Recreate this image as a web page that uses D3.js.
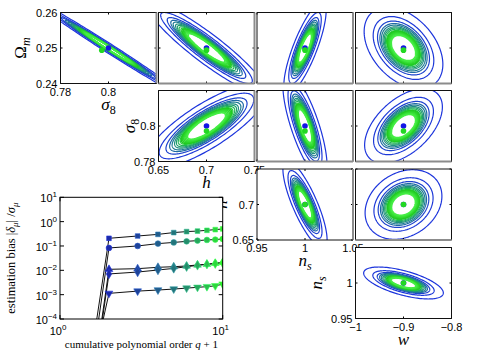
<!DOCTYPE html>
<html>
<head>
<meta charset="utf-8">
<style>
  html, body { margin:0; padding:0; background:#fff; }
  svg { display:block; font-family:"Liberation Sans", Arial, sans-serif; }
  .serif { font-family:"Liberation Serif", "DejaVu Serif", serif; }
</style>
<script src="https://d3js.org/d3.v7.min.js"></script>
</head>
<body>
<svg id="chart"></svg>
<script>
var width = 477, height = 361;

// corner plot parameters: Omega_m, sigma_8, h, n_s, w
var paramSymbol = ["\u03A9", "\u03C3", "h", "n", "w"];
var paramSub = ["m", "8", "", "s", ""];
var paramFiducial = [0.25, 0.8, 0.7, 1.0, -0.9];
var paramEstimate = [0.2494, 0.7972, 0.7, 1.0, -0.9];
var paramDomain = [[0.24, 0.26], [0.78, 0.82], [0.65, 0.75], [0.95, 1.05], [-1, -0.8]];
var paramTicks = [[0.24, 0.25, 0.26], [0.78, 0.8, 0.82], [0.65, 0.7, 0.75], [0.95, 1, 1.05], [-1, -0.9, -0.8]];
var xTickLabels = [[], [0.78, 0.8], [0.65, 0.7, 0.75], [0.95, 1, 1.05], [-1, -0.9, -0.8]];
var yTickLabels = [[0.24, 0.25, 0.26], [0.78, 0.8], [0.65, 0.7], [0.95, 1], []];

// one panel per parameter pair: x param, y param, outer contour widths and correlation
var panelX = [1, 2, 3, 4, 2, 3, 4, 3, 4, 4];
var panelY = [0, 0, 0, 0, 1, 1, 1, 2, 2, 3];
var sigmaX = [0.030, 0.062, 0.022, 0.082, 0.064, 0.023, 0.081, 0.023, 0.080, 0.083];
var sigmaY = [0.013, 0.013, 0.013, 0.0115, 0.024, 0.030, 0.021, 0.062, 0.049, 0.0225];
var rho    = [-0.993, -0.92, 0.8, -0.4, 0.8, -0.75, 0.51, -0.8, 0.24, -0.62];

// nested contours (relative size) and their blue -> green mix
var contourScale = [1, 0.77, 0.66, 0.6, 0.56, 0.52, 0.49, 0.46, 0.43];
var contourMix   = [0, 0.02, 0.08, 0.3, 0.4, 0.5, 0.6, 0.72, 0.85];
var bandScale = [0.41, 0.39, 0.37, 0.35, 0.33, 0.31];

// estimation bias vs cumulative polynomial order
var order = [1, 2, 3, 4, 5, 6, 7, 8, 9, 10];
var biasSquare  = [1e-14, 0.207, 0.257, 0.30, 0.355, 0.39, 0.41, 0.44, 0.47, 0.50];
var biasCircle  = [1e-15, 0.083, 0.100, 0.125, 0.14, 0.155, 0.166, 0.177, 0.183, 0.194];
var biasTriUp   = [1e-16, 0.011, 0.0117, 0.0133, 0.0141, 0.0151, 0.0166, 0.0177, 0.0195, 0.0214];
var biasDiamond = [1e-16, 0.0071, 0.0085, 0.0103, 0.012, 0.0141, 0.016, 0.0177, 0.0188, 0.0199];
var biasTriDown = [1e-12, 0.00113, 0.0014, 0.00155, 0.0017, 0.00186, 0.0020, 0.00213, 0.0023, 0.0027];
var biasTicksX = [1, 10];
var biasTicksY = [1e-4, 1e-3, 1e-2, 1e-1, 1, 10];

var svg = d3.select("#chart").attr("width", width).attr("height", height);
svg.append("rect").attr("width", width).attr("height", height).attr("fill", "#fff");

var colLeft = [60.5, 158.5, 257, 355.5];
var rowTop = [12.5, 90.5, 169, 247.5];
var panelW = 96, panelH = 71;

var contourColor = d3.interpolateRgb("#1d35dc", "#22e622");
var bandColor = d3.interpolateRgb("#20c820", "#44ee44");

function fmt(v) { return String(v).replace("-", "\u2212"); }

function hasPanel(xp, yp) {
  for (var k = 0; k < panelX.length; k++) if (panelX[k] == xp && panelY[k] == yp) return true;
  return false;
}

function ellipse(cx, cy, sx, sy, r, s) {
  var pts = [];
  for (var k = 0; k < 160; k++) {
    var t = 2 * Math.PI * k / 160;
    pts.push([cx + s * sx * Math.cos(t),
              cy + s * sy * (r * Math.cos(t) + Math.sqrt(1 - r * r) * Math.sin(t))]);
  }
  return pts;
}

function paramLabel(sel, p) {
  sel.append("tspan").attr("font-style", p == 0 ? "normal" : "italic").text(paramSymbol[p]);
  if (paramSub[p]) sel.append("tspan").attr("font-style", p == 1 ? "normal" : "italic")
      .attr("font-size", 12).attr("dy", 4).text(paramSub[p]);
}

var yLabelOffset = [35, 24, 30, 34];

panelX.forEach(function(xp, i) {
  var yp = panelY[i];
  var left = colLeft[xp - 1], top = rowTop[yp];
  var x = d3.scaleLinear().domain(paramDomain[xp]).range([left, left + panelW]);
  var y = d3.scaleLinear().domain(paramDomain[yp]).range([top + panelH, top]);
  var g = svg.append("g");

  g.append("rect").attr("x", left).attr("y", top).attr("width", panelW).attr("height", panelH)
    .attr("fill", "#fff");
  g.append("clipPath").attr("id", "clip" + i).append("rect")
    .attr("x", left).attr("y", top).attr("width", panelW).attr("height", panelH);
  var inner = g.append("g").attr("clip-path", "url(#clip" + i + ")");

  var line = d3.line().x(function(d) { return x(d[0]); }).y(function(d) { return y(d[1]); })
    .curve(d3.curveLinearClosed);

  contourScale.forEach(function(s, k) {
    inner.append("path")
      .attr("d", line(ellipse(paramFiducial[xp], paramFiducial[yp], sigmaX[i], sigmaY[i], rho[i], s)))
      .attr("fill", "none").attr("stroke", contourColor(contourMix[k])).attr("stroke-width", 1.2);
  });
  bandScale.forEach(function(s, k) {
    inner.append("path")
      .attr("d", line(ellipse(paramFiducial[xp], paramFiducial[yp], sigmaX[i], sigmaY[i], rho[i], s)))
      .attr("fill", "none").attr("stroke", bandColor(k / (bandScale.length - 1))).attr("stroke-width", 1.6);
  });

  inner.append("circle").attr("cx", x(paramFiducial[xp])).attr("cy", y(paramFiducial[yp]))
    .attr("r", 2.8).attr("fill", "#1414e6");
  inner.append("circle").attr("cx", x(paramEstimate[xp])).attr("cy", y(paramEstimate[yp]))
    .attr("r", 2.8).attr("fill", "#22d822");

  // inward ticks on all sides
  paramTicks[xp].forEach(function(t) {
    g.append("line").attr("x1", x(t)).attr("x2", x(t)).attr("y1", top + panelH).attr("y2", top + panelH - 2)
      .attr("stroke", "#000");
    g.append("line").attr("x1", x(t)).attr("x2", x(t)).attr("y1", top).attr("y2", top + 2)
      .attr("stroke", "#000");
  });
  paramTicks[yp].forEach(function(t) {
    g.append("line").attr("x1", left).attr("x2", left + 2).attr("y1", y(t)).attr("y2", y(t))
      .attr("stroke", "#000");
    g.append("line").attr("x1", left + panelW).attr("x2", left + panelW - 2).attr("y1", y(t)).attr("y2", y(t))
      .attr("stroke", "#000");
  });

  // frame: edges shared with a neighbour look grey
  var rightGrey = hasPanel(xp + 1, yp), bottomGrey = hasPanel(xp, yp + 1);
  g.append("line").attr("x1", left).attr("x2", left + panelW).attr("y1", top).attr("y2", top)
    .attr("stroke", "#111");
  g.append("line").attr("x1", left).attr("x2", left).attr("y1", top).attr("y2", top + panelH)
    .attr("stroke", "#111");
  g.append("line").attr("x1", left + panelW).attr("x2", left + panelW).attr("y1", top).attr("y2", top + panelH)
    .attr("stroke", rightGrey ? "#8c8c8c" : "#111").attr("stroke-width", rightGrey ? 2 : 1);
  g.append("line").attr("x1", left).attr("x2", left + panelW).attr("y1", top + panelH).attr("y2", top + panelH)
    .attr("stroke", bottomGrey ? "#8c8c8c" : "#111").attr("stroke-width", bottomGrey ? 2 : 1);

  // labels only on the diagonal panels
  if (xp == yp + 1) {
    xTickLabels[xp].forEach(function(t) {
      g.append("text").attr("x", x(t)).attr("y", top + panelH + 12).attr("text-anchor", "middle")
        .attr("font-size", 11).text(fmt(t));
    });
    yTickLabels[yp].forEach(function(t) {
      g.append("text").attr("x", left - 3).attr("y", y(t) + 4).attr("text-anchor", "end")
        .attr("font-size", 11).text(fmt(t));
    });
    var xl = g.append("text").attr("class", "serif").attr("x", left + panelW / 2).attr("y", top + panelH + 26)
      .attr("text-anchor", "middle").attr("font-size", 17);
    paramLabel(xl, xp);
    var lx = left - yLabelOffset[yp], ly = top + panelH / 2;
    var yl = g.append("text").attr("class", "serif").attr("text-anchor", "middle").attr("font-size", 17)
      .attr("transform", "translate(" + lx + "," + ly + ") rotate(-90)");
    paramLabel(yl, yp);
  }
});

// ---- bias plot ----
var bx0 = 60, bx1 = 222.7, by0 = 197.3, by1 = 319;
var bx = d3.scaleLog().domain([1, 10]).range([bx0, bx1]);
var by = d3.scaleLog().domain([1e-4, 10]).range([by1, by0]);
var bg = svg.append("g");
bg.append("rect").attr("x", bx0).attr("y", by0).attr("width", bx1 - bx0).attr("height", by1 - by0)
  .attr("fill", "#fff");
bg.append("clipPath").attr("id", "clipBias").append("rect")
  .attr("x", bx0).attr("y", by0).attr("width", bx1 - bx0).attr("height", by1 - by0);
var bin = bg.append("g").attr("clip-path", "url(#clipBias)");

var series = [biasSquare, biasCircle, biasTriUp, biasDiamond, biasTriDown];
var shapes = [d3.symbolSquare, d3.symbolCircle, d3.symbolTriangle, d3.symbolDiamond, d3.symbolTriangle];
var markColor = d3.interpolateRgb("#1c2aa8", "#2ef02e");
var bline = d3.line().x(function(d, k) { return bx(order[k]); }).y(function(d) { return by(d); });

series.forEach(function(s) {
  bin.append("path").attr("d", bline(s)).attr("fill", "none").attr("stroke", "#111").attr("stroke-width", 1);
});
series.forEach(function(s, j) {
  s.forEach(function(v, k) {
    if (order[k] < 2) return;
    var c = markColor((order[k] - 2) / 8);
    bin.append("path")
      .attr("d", d3.symbol().type(shapes[j]).size(j == 0 ? 22 : 26)())
      .attr("transform", "translate(" + bx(order[k]) + "," + by(v) + ")" + (j == 4 ? " rotate(180)" : ""))
      .attr("fill", c).attr("stroke", d3.color(c).brighter(0.8)).attr("stroke-width", 0.6);
  });
});

bg.append("rect").attr("x", bx0).attr("y", by0).attr("width", bx1 - bx0).attr("height", by1 - by0)
  .attr("fill", "none").attr("stroke", "#000").attr("stroke-width", 1);

biasTicksX.forEach(function(t) {
  bg.append("line").attr("x1", bx(t)).attr("x2", bx(t)).attr("y1", by1).attr("y2", by1 - 4).attr("stroke", "#000");
  bg.append("line").attr("x1", bx(t)).attr("x2", bx(t)).attr("y1", by0).attr("y2", by0 + 4).attr("stroke", "#000");
  var tx = bg.append("text").attr("x", bx(t) - 2).attr("y", by1 + 16).attr("text-anchor", "middle").attr("font-size", 11);
  tx.append("tspan").text("10");
  tx.append("tspan").attr("dy", -5).attr("font-size", 8).text(Math.round(Math.log10(t)));
});
biasTicksY.forEach(function(t) {
  bg.append("line").attr("x1", bx0).attr("x2", bx0 + 4).attr("y1", by(t)).attr("y2", by(t)).attr("stroke", "#000");
  bg.append("line").attr("x1", bx1).attr("x2", bx1 - 4).attr("y1", by(t)).attr("y2", by(t)).attr("stroke", "#000");
  var ty = bg.append("text").attr("x", bx0 - 3).attr("y", by(t) + 5).attr("text-anchor", "end").attr("font-size", 11);
  ty.append("tspan").text("10");
  ty.append("tspan").attr("dy", -5).attr("font-size", 8).text(fmt(Math.round(Math.log10(t))));
});

var byl = bg.append("text").attr("class", "serif").attr("text-anchor", "middle").attr("font-size", 12.5)
  .attr("transform", "translate(15," + ((by0 + by1) / 2) + ") rotate(-90)");
byl.append("tspan").text("estimation bias |");
byl.append("tspan").attr("font-style", "italic").text("\u03B4");
byl.append("tspan").attr("font-style", "italic").attr("font-size", 9).attr("dy", 3).text("\u03BC");
byl.append("tspan").attr("dy", -3).text("| /");
byl.append("tspan").attr("font-style", "italic").text("\u03C3");
byl.append("tspan").attr("font-style", "italic").attr("font-size", 9).attr("dy", 3).text("\u03BC");

var bxl = bg.append("text").attr("class", "serif").attr("x", (bx0 + bx1) / 2).attr("y", by1 + 29)
  .attr("text-anchor", "middle").attr("font-size", 11);
bxl.append("tspan").text("cumulative polynomial order ");
bxl.append("tspan").attr("font-style", "italic").text("q");
bxl.append("tspan").text(" + 1");
</script>
</body>
</html>
